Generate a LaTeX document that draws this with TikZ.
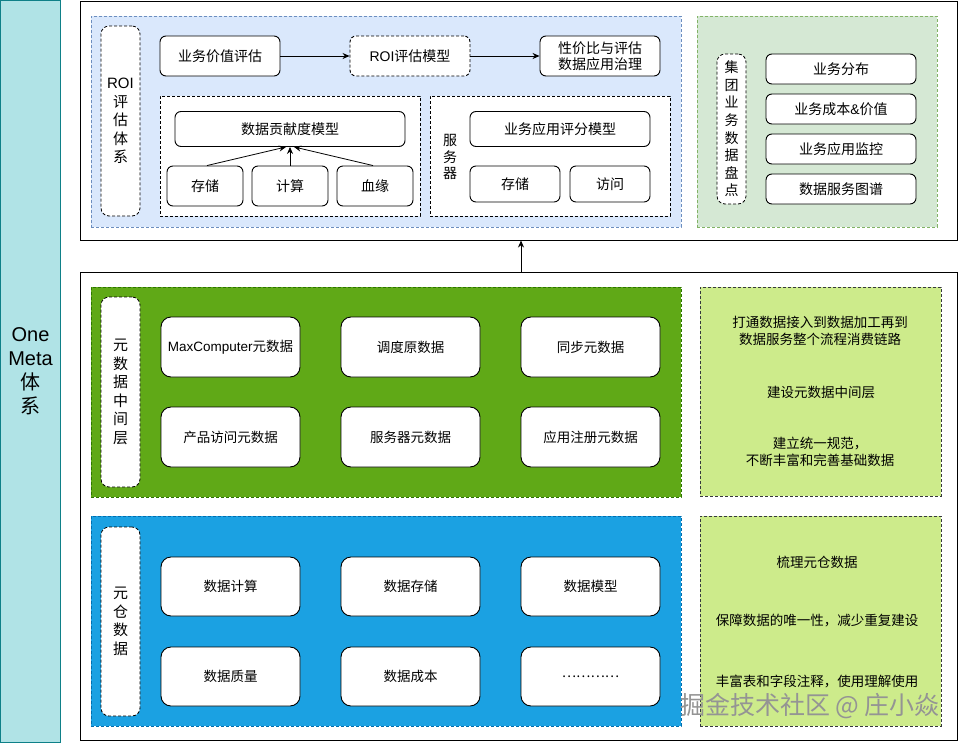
\documentclass[tikz,border=0pt]{standalone}
\usepackage{fontspec}
\setmainfont{Noto Sans CJK SC}
\newfontfamily\lat{Liberation Sans}
\usetikzlibrary{arrows.meta}
\definecolor{tealF}{HTML}{B0E3E6}
\definecolor{tealD}{HTML}{0E8088}
\definecolor{lblueF}{HTML}{DAE8FC}
\definecolor{lblueD}{HTML}{6C8EBF}
\definecolor{lgreenF}{HTML}{D5E8D4}
\definecolor{lgreenD}{HTML}{82B366}
\definecolor{dgreenF}{HTML}{60A917}
\definecolor{dgreenD}{HTML}{2D7600}
\definecolor{limeF}{HTML}{CDEB8B}
\definecolor{limeD}{HTML}{36393D}
\definecolor{blueF}{HTML}{1BA1E2}
\definecolor{blueD}{HTML}{006EAF}
\begin{document}
\begin{tikzpicture}[x=1pt,y=-1pt,
  dsh/.style={dash pattern=on 3pt off 2pt},
  region/.style={draw, dsh, line width=0.7pt, inner sep=0pt},
  outer/.style={draw=black, line width=1pt, fill=white, inner sep=0pt},
  sbox/.style={draw=black, fill=white, rounded corners=6pt, line width=0.9pt, inner sep=0pt, align=center, font=\fontsize{14}{17}\selectfont},
  dbox/.style={sbox, dsh},
  bbox/.style={sbox, rounded corners=10pt, font=\fontsize{13.5}{16}\selectfont},
  lbl/.style={draw=black, fill=white, dsh, line width=0.8pt, rounded corners=8pt, inner sep=0pt, align=center, font=\fontsize{15}{18.5}\selectfont},
  note/.style={align=center, inner sep=0pt, font=\fontsize{13.5}{16.5}\selectfont},
  arr/.style={-{Stealth[length=7pt,width=6pt]}, line width=0.8pt}
]
\useasboundingbox (0,0) rectangle (961,742);
\fill[white] (0,0) rectangle (961,742);

% left band
\node[draw=tealD, fill=tealF, line width=1pt, minimum width=60pt, minimum height=742pt, inner sep=0pt, align=center, font=\fontsize{20}{24}\selectfont] (onemeta) at (30.5,371) {{\lat One}\\{\lat Meta}\\体\\系};

% ===== top part =====
\node[outer, minimum width=877pt, minimum height=239pt] (topouter) at (518.5,120.5) {};
\node[region, draw=lblueD, fill=lblueF, minimum width=590pt, minimum height=211pt] (roireg) at (386,121.5) {};
\node[lbl, minimum width=39pt, minimum height=190pt] (roilbl) at (120.5,121) {{\lat ROI}\\评\\估\\体\\系};

\node[sbox, minimum width=120pt, minimum height=40pt] (a1) at (220,56) {业务价值评估};
\node[dbox, minimum width=120pt, minimum height=40pt] (a2) at (410,56) {{\lat ROI}评估模型};
\node[sbox, minimum width=120pt, minimum height=40pt, font=\fontsize{14}{16.5}\selectfont] (a3) at (600,56) {性价比与评估\\数据应用治理};
\draw[arr] (a1) -- (a2);
\draw[arr] (a2) -- (a3);

\node[region, draw=black, fill=white, minimum width=260pt, minimum height=120pt] (subl) at (290,156) {};
\node[sbox, minimum width=230pt, minimum height=35pt] (gxd) at (290,129) {数据贡献度模型};
\node[sbox, minimum width=76pt, minimum height=40pt] (c1) at (205,186) {存储};
\node[sbox, minimum width=76pt, minimum height=40pt] (c2) at (290,186) {计算};
\node[sbox, minimum width=76pt, minimum height=40pt] (c3) at (375,186) {血缘};
\draw[arr] ([xshift=2pt]c1.north) -- ([xshift=-4pt]gxd.south);
\draw[arr] (c2.north) -- (gxd.south);
\draw[arr] ([xshift=-2pt]c3.north) -- ([xshift=4pt]gxd.south);

\node[region, draw=black, fill=white, minimum width=240pt, minimum height=120pt] (subr) at (550,156) {};
\node[align=center, inner sep=0pt, font=\fontsize{14}{16.5}\selectfont] (fwq) at (450,157) {服\\务\\器};
\node[sbox, minimum width=180pt, minimum height=35pt] (pf) at (560,129) {业务应用评分模型};
\node[sbox, minimum width=90pt, minimum height=36pt] (d1) at (515,184) {存储};
\node[sbox, minimum width=80pt, minimum height=36pt] (d2) at (610,184) {访问};

\node[region, draw=lgreenD, fill=lgreenF, minimum width=240pt, minimum height=211pt] (jtreg) at (817,121.5) {};
\node[lbl, minimum width=29pt, minimum height=150pt, font=\fontsize{14}{17.6}\selectfont] (jtlbl) at (731.5,129) {集\\团\\业\\务\\数\\据\\盘\\点};
\node[sbox, minimum width=150pt, minimum height=30pt] (e1) at (841,69) {业务分布};
\node[sbox, minimum width=150pt, minimum height=30pt] (e2) at (841,109) {业务成本{\lat\&}价值};
\node[sbox, minimum width=150pt, minimum height=30pt] (e3) at (841,149) {业务应用监控};
\node[sbox, minimum width=150pt, minimum height=30pt] (e4) at (841,189) {数据服务图谱};

% ===== bottom part =====
\node[outer, minimum width=877pt, minimum height=468pt] (botouter) at (518.5,506) {};
\draw[arr] ([xshift=2.5pt]botouter.north) -- ([xshift=2.5pt]topouter.south);

\node[region, draw=dgreenD, fill=dgreenF, minimum width=590pt, minimum height=210pt] (mdreg) at (386,392) {};
\node[lbl, minimum width=39pt, minimum height=190pt] (mdlbl) at (120.5,392) {元\\数\\据\\中\\间\\层};
\node[bbox, minimum width=139pt, minimum height=60pt] (m1) at (230.5,347) {{\lat MaxComputer}元数据};
\node[bbox, minimum width=139pt, minimum height=60pt] (m2) at (410.5,347) {调度原数据};
\node[bbox, minimum width=139pt, minimum height=60pt] (m3) at (590.5,347) {同步元数据};
\node[bbox, minimum width=139pt, minimum height=60pt] (m4) at (230.5,437) {产品访问元数据};
\node[bbox, minimum width=139pt, minimum height=60pt] (m5) at (410.5,437) {服务器元数据};
\node[bbox, minimum width=139pt, minimum height=60pt] (m6) at (590.5,437) {应用注册元数据};

\node[region, draw=limeD, fill=limeF, minimum width=241pt, minimum height=209pt] (mdnote) at (820.5,391.5) {};
\node[note] (n1) at (820,331) {打通数据接入到数据加工再到\\数据服务整个流程消费链路};
\node[note] (n2) at (821,392) {建设元数据中间层};
\node[note] (n3) at (820,452) {建立统一规范，\\不断丰富和完善基础数据};

\node[region, draw=blueD, fill=blueF, minimum width=590pt, minimum height=210pt] (ycreg) at (386,621) {};
\node[lbl, minimum width=39pt, minimum height=189pt] (yclbl) at (120.5,621.5) {元\\仓\\数\\据};
\node[bbox, minimum width=139pt, minimum height=59pt] (y1) at (230.5,586.5) {数据计算};
\node[bbox, minimum width=139pt, minimum height=59pt] (y2) at (410.5,586.5) {数据存储};
\node[bbox, minimum width=139pt, minimum height=59pt] (y3) at (590.5,586.5) {数据模型};
\node[bbox, minimum width=139pt, minimum height=59pt] (y4) at (230.5,676.5) {数据质量};
\node[bbox, minimum width=139pt, minimum height=59pt] (y5) at (410.5,676.5) {数据成本};
\node[bbox, minimum width=139pt, minimum height=59pt] (y6) at (590.5,676.5) {…………};

\node[region, draw=limeD, fill=limeF, minimum width=241pt, minimum height=210pt] (ycnote) at (820.5,621) {};
\node[note] (p1) at (817,562) {梳理元仓数据};
\node[note] (p2) at (817,621) {保障数据的唯一性，减少重复建设};
\node[note] (p3) at (817,681) {丰富表和字段注释，使用理解使用};

\node[inner sep=0pt, text=black!42, font=\fontsize{25}{25}\selectfont] (wm) at (810,706) {掘金技术社区 @ 庄小焱};
\end{tikzpicture}
\end{document}
